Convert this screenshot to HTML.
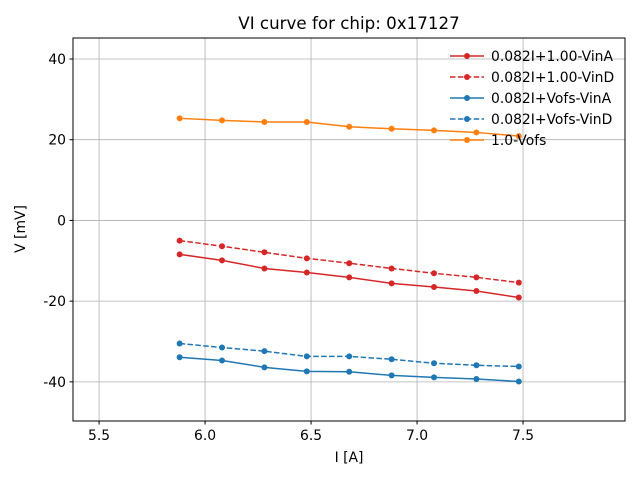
<!DOCTYPE html>
<html><head><meta charset="utf-8"><style>
body{margin:0;background:#fff}
svg{font-family:"DejaVu Sans","Liberation Sans",sans-serif}
</style></head><body>
<svg id="chart" width="640" height="480">
<rect width="640" height="480" fill="#fff"/>
<text x="349" y="29" font-size="16.7" text-anchor="middle">VI curve for chip: 0x17127</text>
<g id="grid"></g>
<g id="series"></g>
<rect x="73" y="38" width="552" height="383" fill="none" stroke="#000" stroke-width="1"/>
<g id="ticks"></g>
<text x="349" y="462" font-size="13.9" text-anchor="middle">I [A]</text>
<text transform="translate(25,229) rotate(-90)" font-size="13.9" text-anchor="middle">V [mV]</text>
<g id="legend"></g>
</svg>
<script>
const currents=[5.88,6.08,6.28,6.48,6.68,6.88,7.08,7.28,7.48];
const redSolid=[-8.4,-9.9,-11.9,-12.9,-14.1,-15.6,-16.5,-17.5,-19.1];
const redDashed=[-5.0,-6.4,-7.9,-9.4,-10.6,-11.9,-13.1,-14.1,-15.4];
const blueSolid=[-33.9,-34.7,-36.4,-37.4,-37.5,-38.4,-38.9,-39.3,-39.9];
const blueDashed=[-30.5,-31.5,-32.4,-33.7,-33.7,-34.4,-35.4,-35.9,-36.2];
const orange=[25.3,24.8,24.4,24.4,23.2,22.7,22.3,21.8,20.9];
const xTicks=[5.5,6.0,6.5,7.0,7.5];
const yTicks=[40,20,0,-20,-40];
const seriesNames=["0.082I+1.00-VinA","0.082I+1.00-VinD","0.082I+Vofs-VinA","0.082I+Vofs-VinD","1.0-Vofs"];

const NS="http://www.w3.org/2000/svg";
const X0=73,X1=625,Y0=38,Y1=421,xmin=5.377,xmax=7.981,ymin=-49.7,ymax=45.2;
const xs=v=>X0+(v-xmin)/(xmax-xmin)*(X1-X0);
const ys=v=>Y1-(v-ymin)/(ymax-ymin)*(Y1-Y0);
function mk(tag,attrs,parent){const e=document.createElementNS(NS,tag);for(const k in attrs)e.setAttribute(k,attrs[k]);parent.appendChild(e);return e;}
const grid=document.getElementById('grid'),ticks=document.getElementById('ticks');
xTicks.forEach(t=>{const x=xs(t);
 const g=mk('line',{x1:x,x2:x,y1:Y0,y2:Y1,stroke:'#b0b0b0','stroke-width':0.8},grid);
 
 mk('line',{x1:x,x2:x,y1:Y1,y2:Y1+3.5,stroke:'#000'},ticks);
 const tx=mk('text',{x:x,y:Y1+19,'font-size':13.9,'text-anchor':'middle'},ticks);tx.textContent=t.toFixed(1);
 });
yTicks.forEach(t=>{const y=ys(t);
 const g=mk('line',{x1:X0,x2:X1,y1:y,y2:y,stroke:'#b0b0b0','stroke-width':0.8},grid);
 
 mk('line',{x1:X0-3.5,x2:X0,y1:y,y2:y,stroke:'#000'},ticks);
 const tx=mk('text',{x:X0-7,y:y+5,'font-size':13.9,'text-anchor':'end'},ticks);tx.textContent=t;
 });
const defs=[[redSolid,'#d62728',''],[redDashed,'#d62728','5.5,2.4'],[blueSolid,'#1f77b4',''],[blueDashed,'#1f77b4','5.5,2.4'],[orange,'#ff7f0e','']];
const sg=document.getElementById('series'),lg=document.getElementById('legend');
defs.forEach((d,i)=>{
 const g=mk('g',{},sg);
 
 const pts=currents.map((c,j)=>xs(c)+','+ys(d[0][j])).join(' ');
 mk('polyline',{points:pts,fill:'none',stroke:d[1],'stroke-width':1.5,'stroke-dasharray':d[2]},g);
 currents.forEach((c,j)=>{const p=mk('circle',{cx:xs(c),cy:ys(d[0][j]),r:3,fill:d[1]},g);
  });
 const ly=56+i*21;
 const le=mk('g',{},lg);
 
 mk('line',{x1:450,x2:484,y1:ly,y2:ly,stroke:d[1],'stroke-width':1.5,'stroke-dasharray':d[2]},le);
 mk('circle',{cx:467,cy:ly,r:3,fill:d[1]},le);
 const t=mk('text',{x:491,y:ly+5,'font-size':13.9},le);t.textContent=seriesNames[i];
});
</script>
</body></html>
